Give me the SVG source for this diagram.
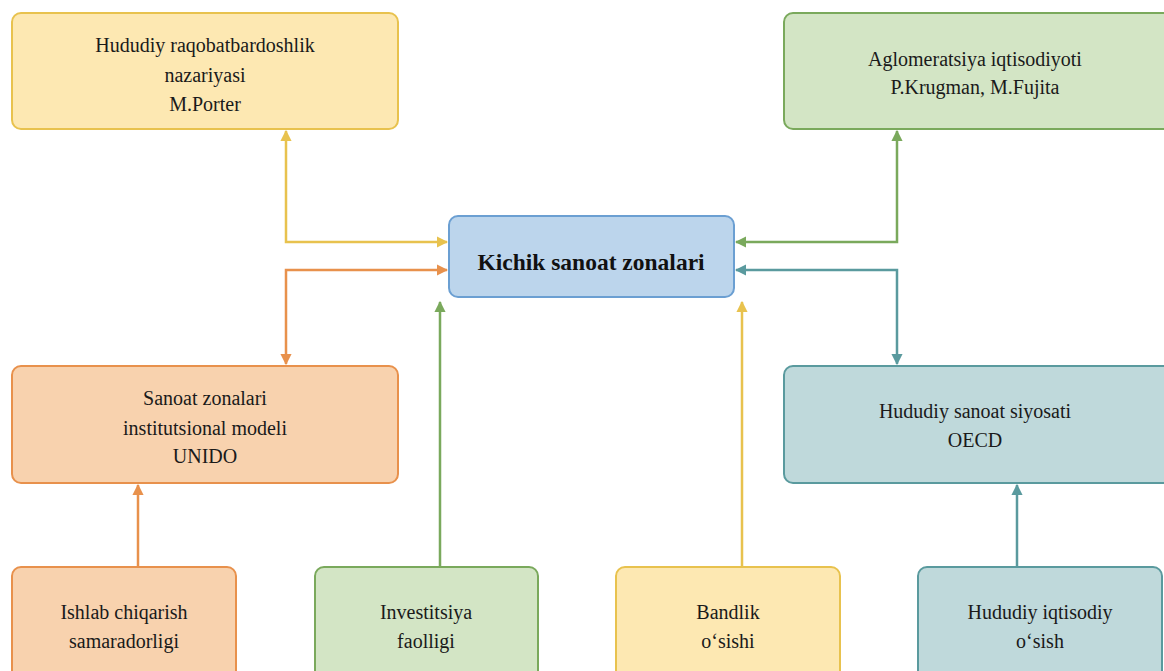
<svg xmlns="http://www.w3.org/2000/svg" width="1164" height="671" viewBox="0 0 1164 671">
<style>
.t{font-family:"Liberation Serif","Times New Roman",serif;font-size:20px;fill:#1a1a1a;text-anchor:middle}
.tb{font-family:"Liberation Serif","Times New Roman",serif;font-size:23.5px;font-weight:bold;fill:#111;text-anchor:middle}
.c{fill:none;stroke-width:2.5}
.y{stroke:#e8c24e}.g{stroke:#7aa95c}.o{stroke:#e8914c}.k{stroke:#5a9a9e}
</style>
<defs>
<marker id="ay" viewBox="0 0 10 10" refX="9" refY="5" markerWidth="4.5" markerHeight="4.5" orient="auto-start-reverse" markerUnits="strokeWidth"><path d="M0,0L10,5L0,10z" fill="#e8c24e"/></marker>
<marker id="ag" viewBox="0 0 10 10" refX="9" refY="5" markerWidth="4.5" markerHeight="4.5" orient="auto-start-reverse" markerUnits="strokeWidth"><path d="M0,0L10,5L0,10z" fill="#7aa95c"/></marker>
<marker id="ao" viewBox="0 0 10 10" refX="9" refY="5" markerWidth="4.5" markerHeight="4.5" orient="auto-start-reverse" markerUnits="strokeWidth"><path d="M0,0L10,5L0,10z" fill="#e8914c"/></marker>
<marker id="ak" viewBox="0 0 10 10" refX="9" refY="5" markerWidth="4.5" markerHeight="4.5" orient="auto-start-reverse" markerUnits="strokeWidth"><path d="M0,0L10,5L0,10z" fill="#5a9a9e"/></marker>
</defs>
<rect width="1164" height="671" fill="#ffffff"/>
<g id="connectors">
<path class="c y" d="M286,131 V242 H447" marker-start="url(#ay)" marker-end="url(#ay)"/>
<path class="c o" d="M447,270 H286 V364" marker-start="url(#ao)" marker-end="url(#ao)"/>
<path class="c g" d="M897,131 V242 H736" marker-start="url(#ag)" marker-end="url(#ag)"/>
<path class="c k" d="M736,270 H897 V364" marker-start="url(#ak)" marker-end="url(#ak)"/>
<path class="c o" d="M138,567 V485" marker-end="url(#ao)"/>
<path class="c g" d="M440,567 V302" marker-end="url(#ag)"/>
<path class="c y" d="M742,567 V302" marker-end="url(#ay)"/>
<path class="c k" d="M1017,567 V485" marker-end="url(#ak)"/>
</g>
<g id="n-porter">
<rect x="12" y="13" width="386" height="116" rx="9" fill="#fde8b2" stroke="#e8c24e" stroke-width="2"/>
<text class="t" x="205" y="52">Hududiy raqobatbardoshlik</text>
<text class="t" x="205" y="82">nazariyasi</text>
<text class="t" x="205" y="111">M.Porter</text>
</g>
<g id="n-krugman">
<rect x="784" y="13" width="390" height="116" rx="9" fill="#d3e5c5" stroke="#7aa95c" stroke-width="2"/>
<text class="t" x="975" y="66">Aglomeratsiya iqtisodiyoti</text>
<text class="t" x="975" y="94">P.Krugman, M.Fujita</text>
</g>
<g id="n-center">
<rect x="449" y="216" width="285" height="81" rx="9" fill="#bcd5ec" stroke="#6b9fd2" stroke-width="2"/>
<text class="tb" x="591" y="270">Kichik sanoat zonalari</text>
</g>
<g id="n-unido">
<rect x="12" y="366" width="386" height="117" rx="9" fill="#f8d2ae" stroke="#e8914c" stroke-width="2"/>
<text class="t" x="205" y="405">Sanoat zonalari</text>
<text class="t" x="205" y="435">institutsional modeli</text>
<text class="t" x="205" y="463">UNIDO</text>
</g>
<g id="n-oecd">
<rect x="784" y="366" width="390" height="117" rx="9" fill="#bfd9db" stroke="#5a9a9e" stroke-width="2"/>
<text class="t" x="975" y="418">Hududiy sanoat siyosati</text>
<text class="t" x="975" y="447">OECD</text>
</g>
<g id="n-ishlab">
<rect x="12" y="567" width="224" height="120" rx="9" fill="#f8d2ae" stroke="#e8914c" stroke-width="2"/>
<text class="t" x="124" y="619">Ishlab chiqarish</text>
<text class="t" x="124" y="648">samaradorligi</text>
</g>
<g id="n-invest">
<rect x="315" y="567" width="223" height="120" rx="9" fill="#d3e5c5" stroke="#7aa95c" stroke-width="2"/>
<text class="t" x="426" y="619">Investitsiya</text>
<text class="t" x="426" y="648">faolligi</text>
</g>
<g id="n-bandlik">
<rect x="616" y="567" width="224" height="120" rx="9" fill="#fde8b2" stroke="#e8c24e" stroke-width="2"/>
<text class="t" x="728" y="619">Bandlik</text>
<text class="t" x="728" y="648">o‘sishi</text>
</g>
<g id="n-osish">
<rect x="918" y="567" width="244" height="120" rx="9" fill="#bfd9db" stroke="#5a9a9e" stroke-width="2"/>
<text class="t" x="1040" y="619">Hududiy iqtisodiy</text>
<text class="t" x="1040" y="648">o‘sish</text>
</g>
</svg>
